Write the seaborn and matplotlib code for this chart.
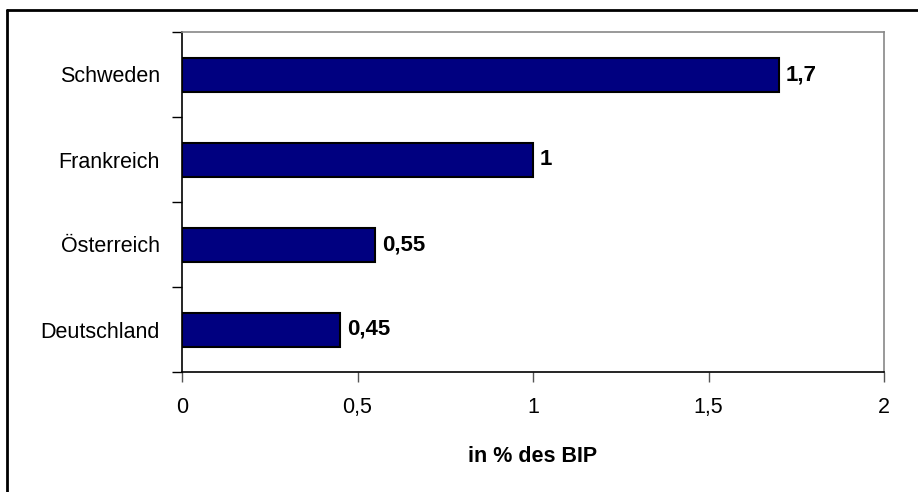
import matplotlib
matplotlib.use("Agg")
import matplotlib.pyplot as plt
import seaborn as sns
from matplotlib.lines import Line2D
from matplotlib.ticker import FuncFormatter

# Daten
laender = ["Schweden", "Frankreich", "Österreich", "Deutschland"]
werte = [1.7, 1.0, 0.55, 0.45]
wert_labels = ["1,7", "1", "0,55", "0,45"]
x_ticks = [0, 0.5, 1, 1.5, 2]

sns.set_theme(style="white")
plt.rcParams["font.family"] = ["Liberation Sans", "DejaVu Sans"]
plt.rcParams["text.color"] = "black"
plt.rcParams["axes.labelcolor"] = "black"
plt.rcParams["xtick.labelcolor"] = "black"
plt.rcParams["ytick.labelcolor"] = "black"

fig = plt.figure(figsize=(9.18, 4.92), dpi=100)
ax = fig.add_axes([182 / 918, 1 - 372 / 492, (884 - 182) / 918, (372 - 32) / 492])

sns.barplot(x=werte, y=laender, orient="h", color="#000080", saturation=1,
            edgecolor="black", linewidth=1.5, width=0.4, ax=ax)

ax.bar_label(ax.containers[0], labels=wert_labels, padding=5,
             fontsize=16, fontweight="bold", color="black")

# x-Achse
ax.set_xlim(0, 2)
ax.set_xticks(x_ticks)
ax.xaxis.set_major_formatter(FuncFormatter(lambda v, p: f"{v:g}".replace(".", ",")))
ax.tick_params(axis="x", which="major", direction="out", length=7, width=1,
               color="#555555", labelsize=15.5, labelcolor="black", pad=11, bottom=True)
ax.set_xlabel("in % des BIP", fontsize=15.5, fontweight="bold", labelpad=20, color="black")

# y-Achse: Striche zwischen Kategorien, Labels in der Mitte
ax.set_ylim(3.5, -0.5)
ax.set_yticks([-0.5, 0.5, 1.5, 2.5, 3.5])
ax.set_yticklabels([])
ax.set_yticks(range(len(laender)), minor=True)
ax.set_yticklabels(laender, minor=True)
ax.tick_params(axis="y", which="major", direction="out", length=7, width=1,
               color="black", left=True)
ax.tick_params(axis="y", which="minor", length=0, labelsize=15.5,
               labelcolor="black", pad=16)
ax.set_ylabel("")

for s in ["top", "right"]:
    ax.spines[s].set_color("#888888")
    ax.spines[s].set_linewidth(1.2)
for s in ["left", "bottom"]:
    ax.spines[s].set_color("black")
    ax.spines[s].set_linewidth(1.2)

# Rahmen (nur links und oben sichtbar)
fig.add_artist(Line2D([7 / 918, 7 / 918], [0, 1 - 10 / 492], transform=fig.transFigure,
                      color="black", linewidth=2))
fig.add_artist(Line2D([7 / 918, 1], [1 - 10 / 492, 1 - 10 / 492], transform=fig.transFigure,
                      color="black", linewidth=2))

fig.savefig("out.png", dpi=100)
